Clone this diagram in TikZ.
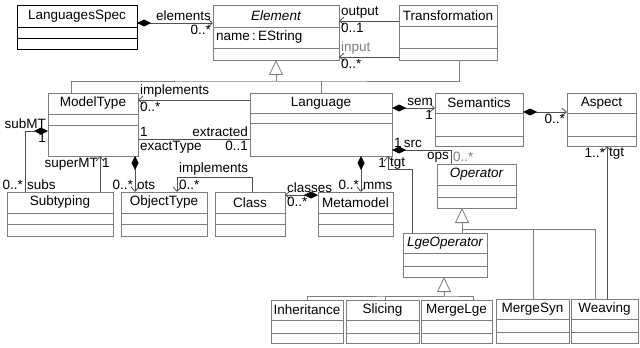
\documentclass[tikz,border=0pt]{standalone}
\usepackage{fontspec}
\setmainfont{Liberation Sans}
\usetikzlibrary{arrows.meta}
\definecolor{umlgray}{RGB}{125,125,125}
\definecolor{umldark}{RGB}{80,80,80}
\newcommand{\umlfont}{\fontsize{13.5}{15}\selectfont}
\tikzset{
	uml/.style={draw=umlgray, line width=0.8pt},
	link/.style={draw=umldark, line width=0.8pt},
	classbox/.style={uml, rectangle, inner sep=0pt, outer sep=0pt, anchor=north west},
	classname/.style={inner sep=0pt, font=\umlfont},
	lbl/.style={font=\umlfont, inner sep=1.8pt},
	assoc/.style={link, -{Straight Barb[length=4.5pt,width=8pt]}},
	comp/.style={link, {Diamond[length=14pt,width=7pt,color=black]}-{Straight Barb[length=4.5pt,width=8pt]}},
	owns/.style={link, {Diamond[length=14pt,width=7pt,color=black]}-},
	inherit/.style={uml, -{Triangle[open,fill=white,length=15pt,width=14pt]}}
}
\newcommand{\umlclass}[9][umlgray]{%
	\node[classbox, draw=#1, minimum width={(#5-#3)*1pt}, minimum height={(#6-#4)*1pt}] (#2) at (#3,#4) {};
	\draw[uml, draw=#1] (#3,#7) -- (#5,#7) (#3,#8) -- (#5,#8);
	\node[classname] (#2-name) at ({(#3+#5)/2},{(#4+#7)/2}) {#9};
}
\begin{document}
\begin{tikzpicture}[x=1pt,y=-1pt]
	\useasboundingbox (0,0) rectangle (640,348);
	
	\umlclass[black]{spec}{17}{5}{137}{49}{27}{38}{LanguagesSpec}
	\umlclass{elem}{213}{5}{339}{60}{27}{48}{\itshape Element}
	\umlclass{trans}{399}{5}{497}{60}{26}{48}{Transformation}
	\umlclass{mt}{48}{93}{138}{156}{114}{125}{ModelType}
	\umlclass{lang}{250}{93}{392}{156}{113}{123}{Language}
	\umlclass{sem}{435}{93}{523}{146}{113}{136}{Semantics}
	\umlclass{asp}{567}{93}{636}{146}{113}{136}{Aspect}
	\umlclass{op}{437}{164}{516}{208}{185}{197}{\itshape Operator}
	\umlclass{lgeop}{403}{233}{487}{277}{253}{266}{\itshape LgeOperator}
	\umlclass{subt}{7}{192}{113}{236}{213}{224}{Subtyping}
	\umlclass{ot}{121}{192}{207}{236}{213}{224}{ObjectType}
	\umlclass{cls}{215}{192}{285}{236}{213}{224}{Class}
	\umlclass{mm}{318}{192}{393}{236}{213}{224}{Metamodel}
	\umlclass{inh}{271}{300}{343}{343}{320}{333}{Inheritance}
	\umlclass{slc}{346}{300}{419}{343}{320}{333}{Slicing}
	\umlclass{mlge}{421}{300}{492}{343}{320}{333}{MergeLge}
	\umlclass{msyn}{496}{299}{569}{343}{319}{332}{MergeSyn}
	\umlclass{weav}{571}{299}{638}{343}{319}{332}{Weaving}
	\node[lbl, anchor=west] (elem-attr) at (214,37) {name\,:\,EString};
	
	\draw[comp] ([yshift=-18pt]spec.north east) -- ([yshift=-18pt]elem.north west)
		node[lbl, pos=1, above left] (l-elements) {elements}
		node[lbl, pos=1, below left] (m-elements) {0..*};
	\draw[assoc] ([yshift=-16pt]trans.north west) -- ([yshift=-16pt]elem.north east)
		node[lbl, pos=1, above right] (l-output) {output}
		node[lbl, pos=1, below right] (m-output) {0..1};
	\draw[assoc] ([yshift=-52pt]trans.north west) -- ([yshift=-52pt]elem.north east)
		node[lbl, pos=1, above right, text=umlgray] (l-input) {input}
		node[lbl, pos=1, below right] (m-input) {0..*};
	
	\coordinate (gen-elem) at (276,81);
	\draw[uml] ([xshift=23pt]mt.north west) |- (gen-elem) -| ([xshift=60pt]trans.south west);
	\draw[uml] (lang.north) -- (lang.north |- gen-elem);
	\draw[inherit] (gen-elem) -- (elem.south);
	
	\draw[assoc] ([yshift=-7pt]lang.north west) -- ([yshift=-7pt]mt.north east)
		node[lbl, pos=1, above right] (l-impl-mt) {implements}
		node[lbl, pos=1, below right] (m-impl-mt) {0..*};
	\draw[link] ([yshift=-46pt]mt.north east) -- ([yshift=-46pt]lang.north west)
		node[lbl, pos=0, above right] (m-exact) {1}
		node[lbl, pos=0, below right] (l-exact) {exactType}
		node[lbl, pos=1, above left] (l-extracted) {extracted}
		node[lbl, pos=1, below left] (m-extracted) {0..1};
	\draw[comp] ([yshift=-15pt]lang.north east) -- ([yshift=-15pt]sem.north west)
		node[lbl, pos=1, above left] (l-sem) {sem}
		node[lbl, pos=1, below left] (m-sem) {1};
	\draw[comp] ([yshift=-19pt]sem.north east) -- ([yshift=-19pt]asp.north west)
		node[lbl, pos=1, below left] (m-asp) {0..*};
	\draw[owns] ([yshift=-57pt]lang.north east) -| ([xshift=14pt]op.north west)
		node[lbl, pos=0, above right] (l-src) {1\,src}
		node[lbl, pos=1, above left] (l-ops) {ops}
		node[lbl, pos=1, above right, text=umlgray] (m-ops) {0..*};
	\draw[assoc] ([xshift=9pt]lgeop.north west) |- ([xshift=-4pt,yshift=-13pt]lang.south east) -- ([xshift=-4pt]lang.south east)
		node[lbl, pos=1, below left] (m-tgt) {1}
		node[lbl, pos=1, below right] (l-tgt) {tgt};
	
	\coordinate (gen-op) at (462,229);
	\draw[inherit] (gen-op) -- ([xshift=25pt]op.south west);
	\draw[uml] ([xshift=59pt]lgeop.north west) -- (gen-op) -| ([xshift=24pt]weav.north west);
	\draw[uml] ([xshift=37pt]msyn.north west) |- (gen-op);
	\draw[assoc] ([xshift=36pt]weav.north west) -- ([xshift=40pt]asp.south west)
		node[lbl, pos=1, below left] (m-wtgt) {1..*}
		node[lbl, pos=1, below right] (l-wtgt) {tgt};
	
	\coordinate (gen-lge) at (444,296);
	\draw[inherit] (gen-lge) -- ([xshift=41pt]lgeop.south west);
	\draw[uml] (inh.north) |- (gen-lge) -| ([xshift=52pt]mlge.north west);
	\draw[uml] ([xshift=39pt]slc.north west) |- (gen-lge);
	
	\draw[owns] ([yshift=-38pt]mt.north west) -| ([xshift=18pt]subt.north west)
		node[lbl, pos=0, above left] (l-submt) {subMT}
		node[lbl, pos=0, below left] (m-submt) {1}
		node[lbl, pos=1, above left] (m-subs) {0..*}
		node[lbl, pos=1, above right] (l-subs) {subs};
	\draw[assoc] ([xshift=93pt]subt.north west) -- ([xshift=52pt]mt.south west)
		node[lbl, pos=1, below left] (l-supermt) {superMT}
		node[lbl, pos=1, below right] (m-supermt) {1};
	\draw[comp] ([xshift=87pt]mt.south west) -- ([xshift=14pt]ot.north west)
		node[lbl, pos=1, above left] (m-ots) {0..*}
		node[lbl, pos=1, above right] (l-ots) {ots};
	\draw[assoc] ([xshift=37pt]cls.north west) |- ([xshift=56pt,yshift=15pt]ot.north west)
		node[lbl, above right] (l-impl-ot) {implements}
		-- ([xshift=56pt]ot.north west)
		node[lbl, pos=1, above right] (m-impl-ot) {0..*};
	\draw[comp] ([xshift=111pt]lang.south west) -- ([xshift=43pt]mm.north west)
		node[lbl, pos=1, above left] (m-mms) {0..*}
		node[lbl, pos=1, above right] (l-mms) {mms};
	\draw[comp] ([yshift=-3pt]mm.north west) -- ([yshift=-3pt]cls.north east)
		node[lbl, pos=1, above right] (l-classes) {classes}
		node[lbl, pos=1, below right] (m-classes) {0..*};
\end{tikzpicture}
\end{document}
